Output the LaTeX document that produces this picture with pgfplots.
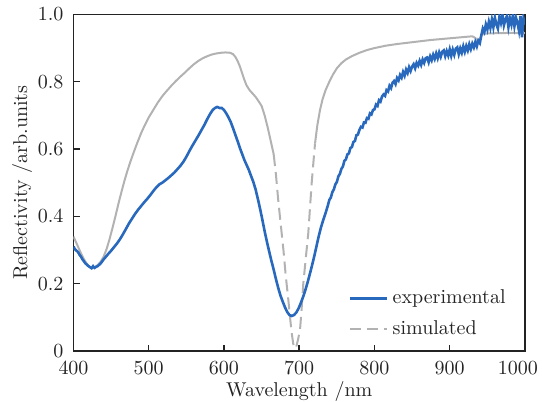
\documentclass[border=0pt]{standalone}
\usepackage{pgfplots}
\pgfplotsset{compat=1.18}
\definecolor{expblue}{RGB}{41,105,189}
\definecolor{simgray}{RGB}{178,178,178}
\definecolor{axcol}{RGB}{35,35,35}

\begin{document}
\begin{tikzpicture}
\path[use as bounding box] (-36.75pt,-25.5pt) rectangle (234.25pt,175.5pt);
\begin{axis}[
  scale only axis,
  width=225.75pt, height=168.3pt,
  xmin=400, xmax=1000, ymin=0, ymax=1,
  xtick={400,500,600,700,800,900,1000},
  xticklabels={400,500,600,700,800,900,{\hspace*{-7pt}1000}},
  ytick={0,0.2,0.4,0.6,0.8,1.0},
  yticklabels={0,0.2,0.4,0.6,0.8,1.0},
  xticklabel style={yshift=-1.5pt},
  yticklabel style={xshift=-1.5pt},
  xtick pos=bottom, ytick pos=left,
  tick align=inside,
  major tick length=3pt,
  axis line style={axcol, line width=0.75pt},
  every tick/.style={axcol, line width=0.75pt},
  tick label style={text=axcol},
  label style={text=axcol},
  xlabel={Wavelength /nm},
  ylabel={Reflectivity /arb.units},
  xlabel style={at={(axis description cs:0.5,0)}, anchor=base, yshift=-22.8pt},
  ylabel style={at={(axis description cs:-0.114,0.5)}, anchor=center},
  legend style={draw=none, fill=none, at={(0.98,0.015)}, anchor=south east,
    font=\normalsize, text=axcol, row sep=3pt},
  legend cell align=left,
  legend image code/.code={\draw[#1] (0pt,0pt) -- (18.5pt,0pt);},
]
% simulated, solid parts
\addplot[simgray, line width=1pt, forget plot] coordinates {
(400,0.340) (405,0.315) (410,0.290) (415,0.268) (420,0.252) (424,0.246) (428,0.248)
(432,0.255) (436,0.265) (440,0.280) (444,0.303) (448,0.333) (452,0.367) (456,0.403)
(460,0.440) (464,0.475) (468,0.508) (472,0.538) (476,0.565) (480,0.590) (485,0.620)
(490,0.648) (495,0.672) (500,0.694) (506,0.716) (512,0.738) (518,0.757) (524,0.773)
(530,0.788) (536,0.802) (542,0.815) (548,0.827) (554,0.840) (560,0.852) (566,0.862)
(572,0.870) (578,0.876) (584,0.881) (590,0.884) (596,0.886) (602,0.887) (608,0.886)
(612,0.882) (615,0.874) (618,0.862) (621,0.846) (624,0.826) (627,0.806) (630,0.789)
(634,0.775) (638,0.765) (642,0.755) (646,0.742) (650,0.728) (654,0.700) (658,0.665)
(662,0.625) (666,0.585)
};
\addplot[simgray, line width=1pt, dash pattern=on 6pt off 3pt, forget plot] coordinates {
(666,0.585) (669,0.525) (672,0.450) (675,0.385) (679,0.300) (682,0.225) (685.5,0.152)
(688,0.095) (690,0.053) (692,0.022) (694,0.008) (696,0.012) (698,0.030) (701,0.062)
(703,0.120) (705.4,0.200) (708,0.260) (712,0.350) (716.5,0.498) (719,0.565) (721,0.617)
};
\addplot[simgray, line width=1pt, forget plot] coordinates {
(721,0.617) (724,0.670) (727.6,0.716) (731,0.748) (735,0.775) (740,0.800) (745,0.822)
(750,0.840) (756,0.855) (762,0.866) (770,0.876) (780,0.886) (790,0.894) (800,0.900)
(815,0.907) (830,0.912) (845,0.916) (860,0.920) (875,0.924) (890,0.927) (905,0.930)
(920,0.933) (930,0.935) (934,0.930) (937,0.920) (940,0.928) (943,0.940) (947,0.943)
(960,0.944) (980,0.945) (1000,0.944)
};
% experimental
\addplot[expblue, line width=1.3pt] coordinates {
(400,0.310) (402,0.302) (404,0.298) (406,0.294) (408,0.286) (410,0.280) (412,0.272)
(414,0.266) (416,0.260) (418,0.256) (420,0.252) (422,0.249) (424,0.246) (426,0.252)
(428,0.247) (430,0.250) (432,0.252) (434,0.256) (436,0.260) (438,0.266) (440,0.272)
(443,0.280) (446,0.288) (450,0.298) (454,0.309) (458,0.320) (462,0.333) (466,0.348)
(470,0.364) (474,0.380) (478,0.394) (482,0.408) (486,0.420) (490,0.431) (494,0.442)
(498,0.452) (502,0.463) (506,0.475) (510,0.486) (514,0.495) (518,0.500) (522,0.507)
(526,0.514) (530,0.522) (534,0.530) (538,0.540) (542,0.550) (546,0.562) (550,0.577)
(554,0.594) (558,0.610) (562,0.625) (566,0.640) (570,0.656) (574,0.672) (578,0.690)
(582,0.706) (585,0.716) (588,0.722) (591,0.725) (594,0.722) (597,0.722) (600,0.716)
(603,0.706) (606,0.694) (609,0.680) (612,0.662) (615,0.643) (618,0.624) (621,0.604)
(624,0.586) (627,0.568) (630,0.553) (633,0.538) (636,0.520) (639,0.502) (642,0.480)
(645,0.452) (648,0.422) (651,0.390) (654,0.356) (657,0.325) (660,0.296) (663,0.268)
(666,0.242) (669,0.214) (672,0.188) (675,0.165) (678,0.147) (681,0.130) (684,0.116)
(687,0.107) (690,0.104) (693,0.107) (696,0.114) (699,0.126) (702,0.142) (705,0.160)
(708,0.180) (711,0.203) (714,0.228) (717,0.254) (720,0.282) (723,0.312) (726,0.342)
(729,0.368) (732,0.390) (735,0.410) (738,0.432)
(740,0.449) (742,0.456) (744,0.472) (746,0.480) (748,0.495) (750,0.502) (752,0.519)
(754,0.526) (756,0.541) (758,0.548) (760,0.565) (762,0.569) (764,0.584) (766,0.587)
(768,0.603) (770,0.606) (772,0.621) (774,0.624) (776,0.641) (778,0.643) (780,0.657)
(782,0.666) (784,0.664) (786,0.679) (788,0.678) (790,0.692) (792,0.690) (794,0.706)
(796,0.703) (798,0.716) (800,0.718) (802,0.732) (804,0.728) (806,0.745) (808,0.741)
(810,0.756) (812,0.762) (814,0.758) (816,0.775) (818,0.771) (820,0.788) (822,0.781)
(824,0.797) (826,0.802) (828,0.793) (830,0.811) (832,0.804) (834,0.820) (836,0.812)
(838,0.829) (840,0.818) (842,0.836) (844,0.826) (846,0.843) (848,0.832) (850,0.845)
(852,0.852) (854,0.840) (856,0.856) (858,0.848) (860,0.862) (862,0.850) (864,0.866)
(866,0.856) (868,0.870) (870,0.872) (872,0.858) (874,0.875) (876,0.864) (878,0.880)
(880,0.868) (882,0.884) (884,0.870) (886,0.887) (888,0.874) (890,0.889) (892,0.893)
(894,0.876) (896,0.891) (898,0.878) (900,0.896) (902,0.877) (904,0.895) (906,0.880)
(908,0.898) (910,0.902) (912,0.882) (914,0.899) (916,0.886) (918,0.905) (920,0.889)
(922,0.906) (924,0.893) (926,0.911) (928,0.897) (930,0.913) (932,0.902) (934,0.918)
(936,0.905) (938,0.922) (940,0.915) (942,0.938) (944,0.958) (946,0.948) (948,0.970)
(950,0.955) (952,0.978) (954,0.960) (956,0.985) (958,0.962) (960,0.990) (962,0.970)
(964,0.958) (966,0.992) (968,0.975) (970,1.000) (972,0.968) (974,0.985) (976,0.995)
(978,0.962) (980,0.988) (982,0.970) (984,0.998) (986,0.965) (988,0.990) (990,0.975)
(992,0.952) (994,0.995) (996,0.932) (998,0.988) (1000,0.970)
};
\addlegendentry{experimental}
\addlegendimage{simgray, line width=1pt, dash pattern=on 5.5pt off 3pt}
\addlegendentry{simulated}
\end{axis}
\end{tikzpicture}
\end{document}
